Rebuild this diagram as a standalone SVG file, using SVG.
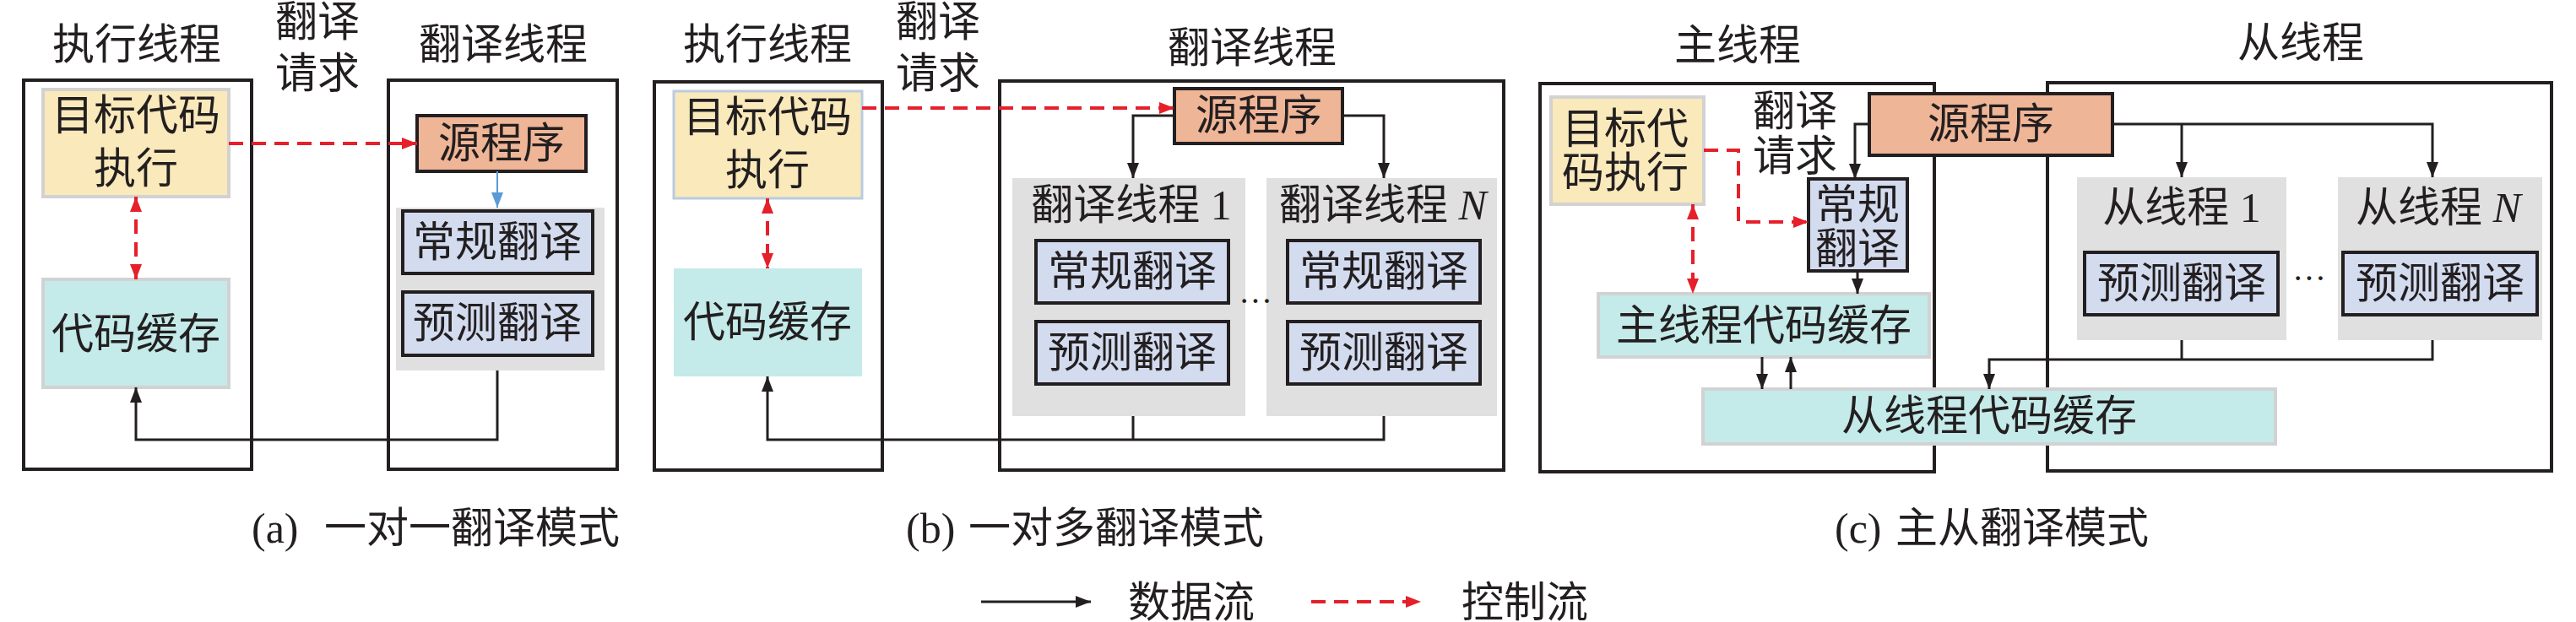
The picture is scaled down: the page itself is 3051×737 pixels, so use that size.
<svg xmlns="http://www.w3.org/2000/svg" width="3051" height="737" viewBox="0 0 3051 737">
<style>
.t{font-family:"Liberation Serif","Noto Sans CJK SC",serif;font-size:50px;fill:#231F20;text-anchor:middle}
.ts{font-family:"Liberation Serif","Noto Sans CJK SC",serif;font-size:50px;fill:#231F20}
.frame{fill:none;stroke:#231F20;stroke-width:4}
.yel{fill:#F9E9BB;stroke:#D2D2D2;stroke-width:4}
.yelb{fill:#F9E9BB;stroke:#B9CCE0;stroke-width:3}
.cyan{fill:#C4EAE9;stroke:#D2D2D2;stroke-width:4}
.cyanb{fill:#C4EAE9}
.src{fill:#EFB597;stroke:#231F20;stroke-width:4}
.blu{fill:#D3DBEF;stroke:#231F20;stroke-width:4}
.pan{fill:#E0E0E0}
.d{fill:none;stroke:#231F20;stroke-width:3}
.c{fill:none;stroke:#E5202A;stroke-width:4;stroke-dasharray:17 10}
.b{fill:none;stroke:#5B9BD5;stroke-width:2}
</style>
<defs>
<marker id="ak" viewBox="0 0 18 14" refX="18" refY="7" markerWidth="18" markerHeight="14" markerUnits="userSpaceOnUse" orient="auto-start-reverse"><path d="M0,0 L18,7 L0,14 Z" fill="#231F20"/></marker>
<marker id="ar" viewBox="0 0 18 14" refX="18" refY="7" markerWidth="18" markerHeight="14" markerUnits="userSpaceOnUse" orient="auto-start-reverse"><path d="M0,0 L18,7 L0,14 Z" fill="#E5202A"/></marker>
<marker id="ab" viewBox="0 0 18 14" refX="18" refY="7" markerWidth="18" markerHeight="14" markerUnits="userSpaceOnUse" orient="auto"><path d="M0,0 L18,7 L0,14 Z" fill="#5B9BD5"/></marker>
</defs>

<!-- (a) -->
<g id="a-titles">
<text class="t" x="162" y="70">执行线程</text>
<text class="t" x="376" y="43">翻译</text>
<text class="t" x="376" y="104">请求</text>
<text class="t" x="596" y="70">翻译线程</text>
</g>
<g id="a-exec-thread"><rect class="frame" x="28" y="95" width="270" height="461"/></g>
<g id="a-trans-thread"><rect class="frame" x="460" y="95" width="271" height="461"/></g>
<g id="a-target"><rect class="yel" x="51" y="106" width="220" height="127"/>
<text class="t" x="161" y="154">目标代码</text><text class="t" x="161" y="217">执行</text></g>
<g id="a-cache"><rect class="cyan" x="51" y="331" width="220" height="128"/>
<text class="t" x="161" y="413">代码缓存</text></g>
<g id="a-source"><rect class="src" x="494" y="137" width="200" height="66"/>
<text class="t" x="594" y="187">源程序</text></g>
<g id="a-panel"><rect class="pan" x="469" y="246" width="247" height="193"/></g>
<g id="a-normal"><rect class="blu" x="477" y="250" width="225" height="74"/>
<text class="t" x="589" y="304">常规翻译</text></g>
<g id="a-predict"><rect class="blu" x="477" y="346" width="225" height="75"/>
<text class="t" x="589" y="400">预测翻译</text></g>

<!-- (b) -->
<g id="b-titles">
<text class="t" x="909" y="70">执行线程</text>
<text class="t" x="1111" y="43">翻译</text>
<text class="t" x="1111" y="104">请求</text>
<text class="t" x="1483" y="74">翻译线程</text>
</g>
<g id="b-exec-thread"><rect class="frame" x="775" y="97" width="270" height="460"/></g>
<g id="b-trans-thread"><rect class="frame" x="1184" y="96" width="597" height="461"/></g>
<g id="b-target"><rect class="yelb" x="798" y="108" width="223" height="127"/>
<text class="t" x="909" y="156">目标代码</text><text class="t" x="909" y="219">执行</text></g>
<g id="b-cache"><rect class="cyanb" x="798" y="318" width="223" height="128"/>
<text class="t" x="909" y="399">代码缓存</text></g>
<g id="b-source"><rect class="src" x="1391" y="105" width="199" height="65"/>
<text class="t" x="1491" y="154">源程序</text></g>
<g id="b-thread1"><rect class="pan" x="1199" y="211" width="276" height="282"/>
<text class="t" x="1340" y="260">翻译线程 1</text></g>
<g id="b-threadN"><rect class="pan" x="1500" y="211" width="273" height="282"/>
<text class="t" x="1638" y="260">翻译线程 <tspan font-style="italic">N</tspan></text></g>
<g id="b-normal1"><rect class="blu" x="1227" y="285" width="228" height="74"/>
<text class="t" x="1341" y="339">常规翻译</text></g>
<g id="b-predict1"><rect class="blu" x="1227" y="381" width="228" height="74"/>
<text class="t" x="1341" y="435">预测翻译</text></g>
<g id="b-normalN"><rect class="blu" x="1525" y="285" width="228" height="74"/>
<text class="t" x="1639" y="339">常规翻译</text></g>
<g id="b-predictN"><rect class="blu" x="1525" y="381" width="228" height="74"/>
<text class="t" x="1639" y="435">预测翻译</text></g>
<g id="b-dots"><text class="t" x="1487" y="370" style="font-size:40px">···</text></g>

<!-- (c) -->
<g id="c-titles">
<text class="t" x="2058" y="71">主线程</text>
<text class="t" x="2725" y="68">从线程</text>
</g>
<g id="c-main-thread"><rect class="frame" x="1824" y="99" width="467" height="460"/></g>
<g id="c-slave-thread"><rect class="frame" x="2425" y="98" width="597" height="460"/></g>
<g id="c-target"><rect class="yel" x="1837" y="115" width="181" height="127"/>
<text class="t" x="1925" y="170">目标代</text><text class="t" x="1925" y="222">码执行</text></g>
<g id="c-req-label"><text class="t" x="2126" y="149">翻译</text><text class="t" x="2126" y="202">请求</text></g>
<g id="c-source"><rect class="src" x="2214" y="111" width="288" height="73"/>
<text class="t" x="2358" y="164">源程序</text></g>
<g id="c-normal"><rect class="blu" x="2142" y="212" width="117" height="109"/>
<text class="t" x="2200" y="260">常规</text><text class="t" x="2200" y="312">翻译</text></g>
<g id="c-main-cache"><rect class="cyan" x="1893" y="348" width="392" height="75"/>
<text class="t" x="2089" y="403">主线程代码缓存</text></g>
<g id="c-slave-cache"><rect class="cyan" x="2017" y="461" width="678" height="65"/>
<text class="t" x="2356" y="510">从线程代码缓存</text></g>
<g id="c-slave1"><rect class="pan" x="2460" y="210" width="248" height="193"/>
<text class="t" x="2584" y="263">从线程 1</text></g>
<g id="c-slaveN"><rect class="pan" x="2769" y="210" width="242" height="193"/>
<text class="t" x="2888" y="263">从线程 <tspan font-style="italic">N</tspan></text></g>
<g id="c-predict1"><rect class="blu" x="2469" y="299" width="229" height="74"/>
<text class="t" x="2584" y="353">预测翻译</text></g>
<g id="c-predictN"><rect class="blu" x="2775" y="299" width="230" height="74"/>
<text class="t" x="2890" y="353">预测翻译</text></g>
<g id="c-dots"><text class="t" x="2735" y="343" style="font-size:40px">···</text></g>

<!-- connectors -->
<g id="connectors">
<path class="c" d="M271,170 H494" marker-end="url(#ar)"/>
<path class="b" d="M589,203 V246" marker-end="url(#ab)"/>
<path class="c" d="M161,233 V331" marker-start="url(#ar)" marker-end="url(#ar)"/>
<path class="d" d="M589,439 V521 H161 V459" marker-end="url(#ak)"/>

<path class="c" d="M1021,128 H1391" marker-end="url(#ar)"/>
<path class="d" d="M1391,137 H1342 V211" marker-end="url(#ak)"/>
<path class="d" d="M1590,137 H1639 V211" marker-end="url(#ak)"/>
<path class="c" d="M909,235 V318" marker-start="url(#ar)" marker-end="url(#ar)"/>
<path class="d" d="M1342,493 V521"/>
<path class="d" d="M1639,493 V521 H909 V446" marker-end="url(#ak)"/>

<path class="d" d="M2214,147 H2197 V212" marker-end="url(#ak)"/>
<path class="c" d="M2018,178 H2059 V263 H2142" marker-end="url(#ar)"/>
<path class="d" d="M2200,321 V348" marker-end="url(#ak)"/>
<path class="c" d="M2005,242 V348" marker-start="url(#ar)" marker-end="url(#ar)"/>
<path class="d" d="M2087,423 V461" marker-end="url(#ak)"/>
<path class="d" d="M2121,461 V423" marker-end="url(#ak)"/>
<path class="d" d="M2502,147 H2881 V210" marker-end="url(#ak)"/>
<path class="d" d="M2584,147 V210" marker-end="url(#ak)"/>
<path class="d" d="M2584,403 V426"/>
<path class="d" d="M2881,403 V426 H2356 V461" marker-end="url(#ak)"/>
</g>

<!-- captions -->
<g id="captions">
<text class="ts" x="298" y="643">(a)<tspan x="384">一对一翻译模式</tspan></text>
<text class="ts" x="1073" y="643">(b)<tspan x="1147">一对多翻译模式</tspan></text>
<text class="ts" x="2173" y="643">(c)<tspan x="2245">主从翻译模式</tspan></text>
</g>

<!-- legend -->
<g id="legend">
<path class="d" d="M1162,713 H1292" marker-end="url(#ak)"/>
<text class="t" x="1411" y="731">数据流</text>
<path class="c" d="M1553,713 H1683" marker-end="url(#ar)"/>
<text class="t" x="1806" y="731">控制流</text>
</g>
</svg>
